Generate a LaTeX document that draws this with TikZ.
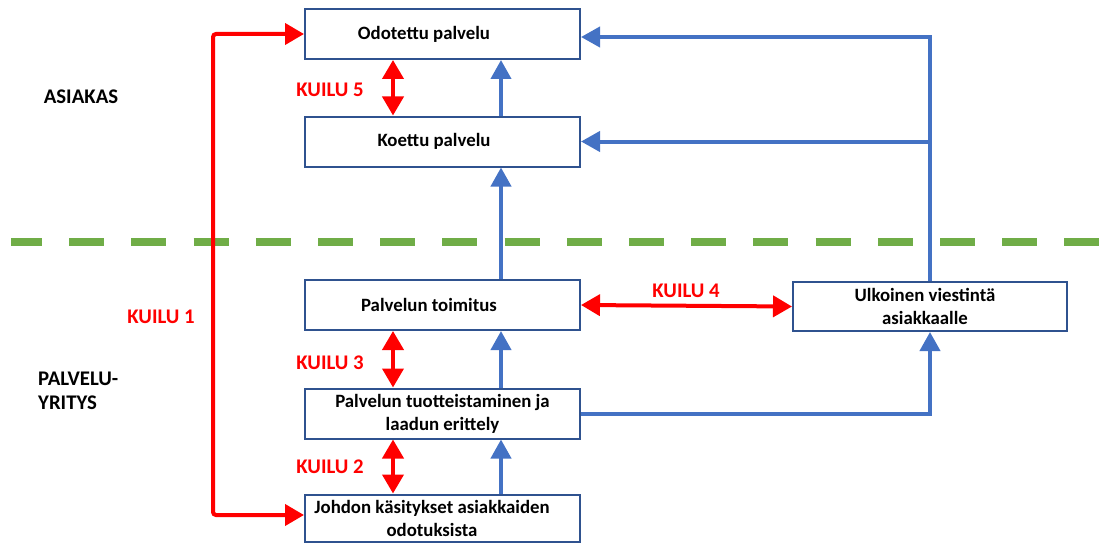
\documentclass[tikz,border=0pt]{standalone}
\usepackage{fontspec}
\setmainfont{Carlito}
\usetikzlibrary{arrows.meta}
\definecolor{boxblue}{HTML}{2F528F}
\definecolor{lineblue}{HTML}{4472C4}
\definecolor{gapred}{HTML}{FF0000}
\definecolor{divgreen}{HTML}{70AD47}
\newcommand{\rpad}[1]{\hspace*{#1}}
\begin{document}
\begin{tikzpicture}[x=1pt,y=-1pt,
  box/.style={draw=boxblue, line width=2pt, minimum width=275pt, minimum height=50pt,
    align=center, inner sep=0pt, fill=white,
    font=\bfseries\fontsize{18.8}{23}\selectfont},
  blueline/.style={draw=lineblue, line width=4pt, -{Triangle[width=20pt,length=19pt]}},
  redline/.style={draw=gapred, line width=4pt, {Triangle[width=21pt,length=19pt]}-{Triangle[width=21pt,length=19pt]}},
  gaplabel/.style={text=gapred, font=\bfseries\fontsize{20.8}{24}\selectfont},
  sidelabel/.style={font=\bfseries\fontsize{20.8}{24}\selectfont, align=left}]
\useasboundingbox (0,0) rectangle (1101,543);
\draw[divgreen, line width=8pt, dash pattern=on 35pt off 27.2pt, dash phase=4pt] (11,242) -- (1101,242);
\node[box] (odo) at (442.5,34) {Odotettu palvelu\rpad{37pt}};
\node[box] (koe) at (442.5,141.5) {Koettu palvelu\rpad{17pt}};
\node[box] (toi) at (442.5,305) {Palvelun toimitus\rpad{27pt}};
\node[box] (tuo) at (442.5,413.5) {Palvelun tuotteistaminen ja\\laadun erittely};
\node[box, minimum height=47pt] (joh) at (442.5,518) {Johdon käsitykset asiakkaiden\rpad{21pt}\\odotuksista\rpad{21pt}};
\node[box, minimum width=274pt, minimum height=49pt] (ulk) at (930,306.5) {Ulkoinen viestintä\rpad{10pt}\\asiakkaalle\rpad{10pt}};
% blue arrows
\draw[blueline] ([xshift=58.5pt]koe.north) -- ([xshift=58.5pt]odo.south);
\draw[blueline] ([xshift=58.5pt]toi.north) -- ([xshift=58.5pt]koe.south);
\draw[blueline] ([xshift=58.5pt]tuo.north) -- ([xshift=58.5pt]toi.south);
\draw[blueline] ([xshift=58.5pt]joh.north) -- ([xshift=58.5pt]tuo.south);
\coordinate (odoin) at ([yshift=-3pt]odo.east);
\coordinate (branch) at (ulk.north |- koe.east);
\draw[blueline] (ulk.north) |- (odoin);
\draw[blueline] (branch) -- (koe.east);
\draw[blueline] (tuo.east) -| (ulk.south);
% red gaps
\draw[redline] ([xshift=-49.5pt]odo.south) -- ([xshift=-49.5pt]koe.north);
\draw[redline] ([xshift=-49.5pt]toi.south) -- ([xshift=-49.5pt]tuo.north);
\draw[redline] ([xshift=-49.5pt]tuo.south) -- ([xshift=-49.5pt]joh.north);
\draw[redline] (toi.east) -- (ulk.west);
\coordinate (johin) at ([yshift=3pt]joh.west);
\coordinate (c1) at (213,0);
\draw[redline, rounded corners=3pt] (odo.west) -| (c1 |- johin) -- (johin);
% labels
\node[gaplabel] (k5) at (330,90) {KUILU 5};
\node[gaplabel] (k3) at (330,363) {KUILU 3};
\node[gaplabel] (k2) at (330,467) {KUILU 2};
\node[gaplabel] (k4) at (686,291) {KUILU 4};
\node[gaplabel] (k1) at (161,317) {KUILU 1};
\node[sidelabel] (as) at (81,97) {ASIAKAS};
\node[sidelabel, anchor=west, inner sep=0pt] (py) at (38,391) {PALVELU-\\YRITYS};
\end{tikzpicture}
\end{document}
